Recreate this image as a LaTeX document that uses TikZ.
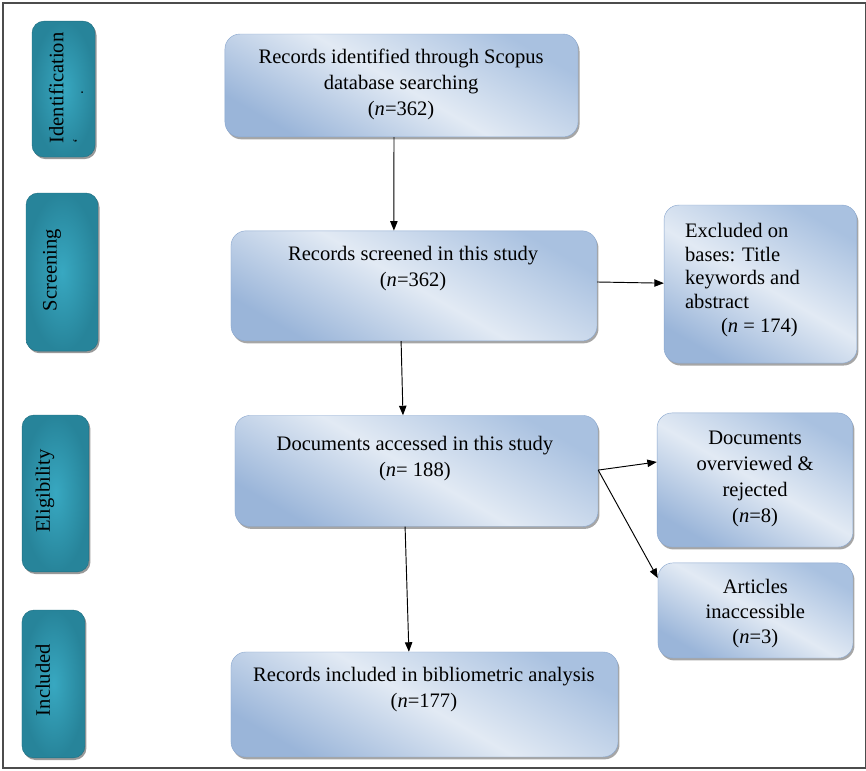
\documentclass[tikz,border=0pt]{standalone}
\usepackage{fontspec}
\setmainfont{Liberation Serif}
\usetikzlibrary{arrows.meta,shadows}
\definecolor{tealdark}{HTML}{27849A}
\definecolor{teallight}{HTML}{38A8C1}
\definecolor{boxtop}{HTML}{A9C1E0}
\definecolor{boxmid}{HTML}{E2EAF4}
\definecolor{boxbot}{HTML}{9AB5D9}
\definecolor{boxline}{HTML}{8AA7CE}

\begin{document}
\begin{tikzpicture}[
  >={Triangle[length=9pt,width=7pt]},
  phase/.style={rounded corners=0.4cm, draw=tealdark!85!black, inner color=teallight, outer color=tealdark,
    drop shadow={shadow xshift=0.05cm, shadow yshift=-0.07cm, fill=black, opacity=0.4}},
  stepbox/.style={rounded corners=0.5cm, draw=boxline, top color=boxtop, bottom color=boxbot, middle color=boxmid,
    shading angle=-30, drop shadow={shadow xshift=0.05cm, shadow yshift=-0.08cm, fill=black, opacity=0.35}},
  txt/.style={align=center, font=\fontsize{19.5}{24.7}\selectfont, inner sep=0pt},
  phasetxt/.style={txt, rotate=90}
]
\useasboundingbox (0,0) rectangle (28.867,25.7);
\draw[line width=1.2pt, black!70] (0.1,0.1) rectangle (28.85,25.6);

\node[phase, minimum width=2.1cm, minimum height=4.53cm] (ident) at (2.117,22.73) {};
\node[phase, minimum width=2.4cm, minimum height=5.27cm] (screen) at (2.067,16.63) {};
\node[phase, minimum width=2.23cm, minimum height=5.23cm] (elig) at (1.85,9.25) {};
\node[phase, minimum width=2.1cm, minimum height=4.93cm] (incl) at (1.783,2.9) {};
\node[phasetxt, align=left] (identt) at (2.2,22.77) {Identification\\[-6pt]{\fontsize{14}{14}\selectfont ‘\hspace{1.45cm}.}};
\node[phasetxt] (screent) at (1.733,16.7) {Screening};
\node[phasetxt] (eligt) at (1.5,9.33) {Eligibility};
\node[phasetxt] (inclt) at (1.43,3.03) {Included};

\node[stepbox, minimum width=11.77cm, minimum height=3.43cm] (rec1) at (13.383,22.85) {};
\node[stepbox, minimum width=12.2cm, minimum height=3.67cm] (rec2) at (13.8,16.17) {};
\node[stepbox, minimum width=12.1cm, minimum height=3.7cm] (rec3) at (13.883,10.0) {};
\node[stepbox, minimum width=12.9cm, minimum height=3.5cm] (rec4) at (14.15,2.217) {};
\node[stepbox, minimum width=6.43cm, minimum height=5.27cm] (excl) at (25.35,16.23) {};
\node[stepbox, minimum width=6.53cm, minimum height=4.47cm] (over) at (25.167,9.7) {};
\node[stepbox, minimum width=6.5cm, minimum height=3.17cm] (inacc) at (25.183,5.35) {};

\node[txt] (rec1t) at (13.37,22.87) {Records identified through Scopus\\database searching\\(\textit{n}=362)};
\node[txt] (rec2t) at (13.77,16.75) {Records screened in this study\\(\textit{n}=362)};
\node[txt] (rec3t) at (13.83,10.42) {Documents accessed in this study\\(\textit{n}= 188)};
\node[txt] (rec4t) at (14.13,2.73) {Records included in bibliometric analysis\\(\textit{n}=177)};
\node[txt, align=left, anchor=west, font=\fontsize{19.5}{22.5}\selectfont] (exclt) at (22.83,16.37)
  {Excluded on\\bases: Title\\keywords and\\abstract\\\hspace{1.2cm}(\textit{n} = 174)};
\node[txt] (overt) at (25.17,9.72) {Documents\\overviewed \&\\rejected\\(\textit{n}=8)};
\node[txt, font=\fontsize{19.5}{23.5}\selectfont] (inacct) at (25.18,5.25) {Articles\\inaccessible\\(\textit{n}=3)};

\draw[->, line width=0.9pt] ([xshift=-0.25cm]rec1.south) -- ([xshift=-0.67cm]rec2.north);
\draw[->, line width=0.9pt] ([xshift=-0.43cm]rec2.south) -- ([xshift=-0.45cm]rec3.north);
\draw[->, line width=0.9pt] ([xshift=-0.38cm]rec3.south) -- ([xshift=-0.52cm]rec4.north);
\draw[->, line width=0.9pt] ([yshift=0.13cm]rec2.east) -- ([yshift=0.03cm]excl.west);
\draw[->, line width=0.9pt] ([yshift=0.03cm]rec3.east) -- ([yshift=0.6cm]over.west);
\draw[->, line width=0.9pt] ([yshift=0.03cm]rec3.east) -- ([yshift=1.08cm]inacc.west);
\end{tikzpicture}
\end{document}
